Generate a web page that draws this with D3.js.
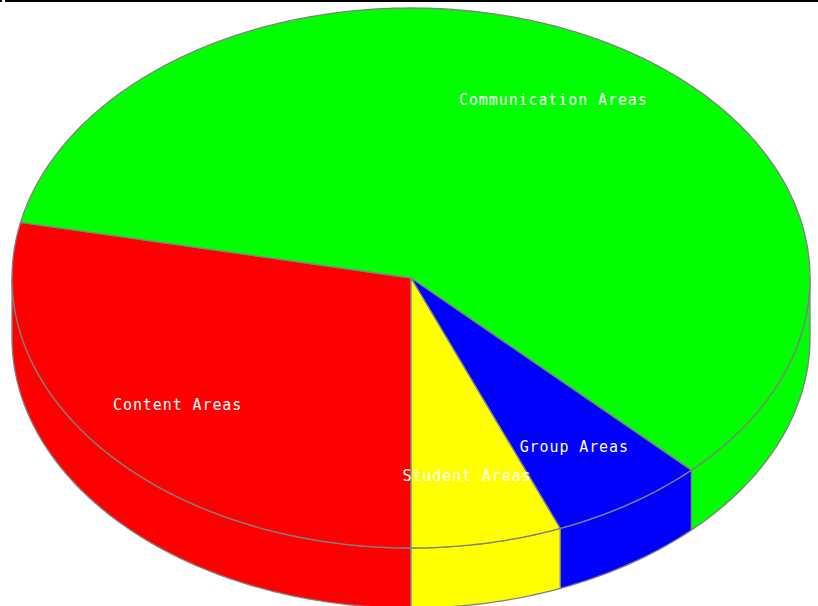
<!DOCTYPE html>
<html><head><meta charset="utf-8">
<script src="https://cdn.jsdelivr.net/npm/d3@7"></script>
<style>html,body{margin:0;padding:0;background:#fff;}svg{display:block;}</style>
</head><body>
<script>
const categories = ["Content Areas", "Communication Areas", "Group Areas", "Student Areas"];
const values = [28.3, 59.3, 6.3, 6.1];
const colors = ["#ff0000", "#00ff00", "#0000ff", "#ffff00"];

const W = 818, H = 606;
const cx = 411, cy = 278, rx = 399, ry = 270, depth = 60;
const svg = d3.select("body").append("svg").attr("width", W).attr("height", H);

// frame line at top
svg.append("rect").attr("x", 5).attr("y", 0).attr("width", W - 5).attr("height", 2).attr("fill", "#000");
svg.append("rect").attr("x", 0).attr("y", 0).attr("width", 2).attr("height", 2).attr("fill", "#000");

const pie = d3.pie().sort(null).value(d => d).startAngle(Math.PI).endAngle(3 * Math.PI);
const arcs = pie(values);

// elliptical projection scales
const sx = d3.scaleLinear().domain([-1, 1]).range([cx - rx, cx + rx]);
const sy = d3.scaleLinear().domain([-1, 1]).range([cy - ry, cy + ry]);
const pt = (a, dz = 0) => [sx(Math.sin(a)), sy(-Math.cos(a)) + dz];
const line = d3.line();
const samples = (a0, a1) => {
  const n = Math.max(2, Math.ceil(Math.abs(a1 - a0) / 0.01));
  return d3.range(n + 1).map(i => a0 + (a1 - a0) * i / n);
};

// side walls (front half: d3 angles between 90° and 270° mod 360)
const sides = svg.append("g");
arcs.forEach((d, i) => {
  for (let k = 0; k < 2; k++) {
    const f0 = Math.PI / 2 + k * 2 * Math.PI, f1 = 3 * Math.PI / 2 + k * 2 * Math.PI;
    const a0 = Math.max(d.startAngle, f0), a1 = Math.min(d.endAngle, f1);
    if (a1 <= a0) continue;
    const top = samples(a0, a1).map(a => pt(a));
    const bot = samples(a1, a0).map(a => pt(a, depth));
    sides.append("path").attr("d", line(top.concat(bot)) + "Z")
      .attr("fill", colors[i]).attr("stroke", "#808080").attr("stroke-width", 1.3);
  }
});

// top slices
const tops = svg.append("g");
arcs.forEach((d, i) => {
  const p = [[cx, cy]].concat(samples(d.startAngle, d.endAngle).map(a => pt(a)));
  tops.append("path").attr("d", line(p) + "Z")
    .attr("fill", colors[i]).attr("stroke", "#808080").attr("stroke-width", 1.3)
    .attr("stroke-linejoin", "round");
});

// labels at 0.75 radius of slice mid-angle
const labels = svg.append("g");
arcs.forEach((d, i) => {
  const m = (d.startAngle + d.endAngle) / 2;
  labels.append("text")
    .attr("x", sx(0.75 * Math.sin(m)) - 1)
    .attr("y", sy(-0.75 * Math.cos(m)))
    .attr("text-anchor", "middle").attr("dominant-baseline", "middle")
    .attr("font-family", "'DejaVu Sans Mono', monospace").attr("font-size", 15)
    .attr("letter-spacing", 0.9).attr("fill", "#fff")
    .text(categories[i]);
});
</script>
</body></html>
